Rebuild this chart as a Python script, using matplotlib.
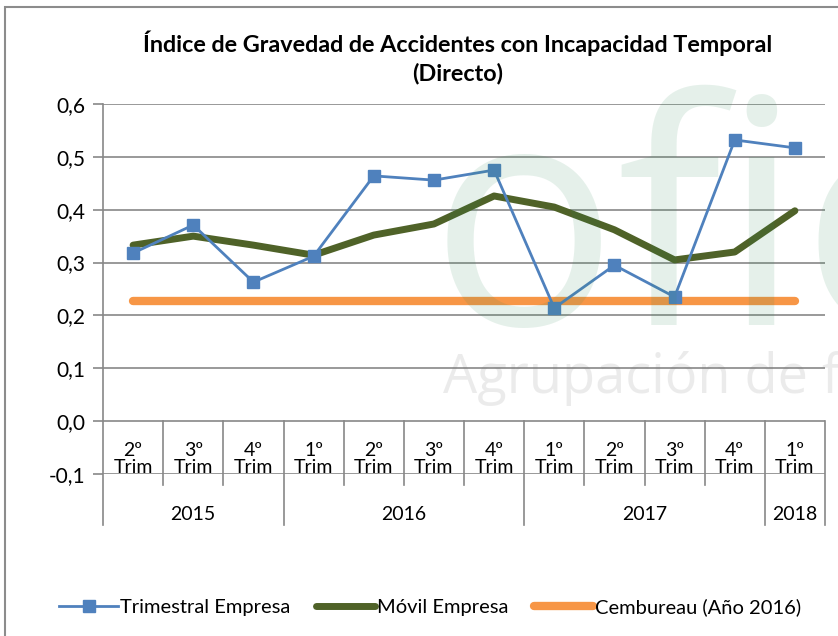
import matplotlib
matplotlib.use("Agg")
import matplotlib.pyplot as plt
from matplotlib.patches import Rectangle

quarters = ["2º", "3º", "4º", "1º", "2º", "3º", "4º", "1º", "2º", "3º", "4º", "1º"]
years = ["2015", "2016", "2017", "2018"]
year_counts = [3, 4, 4, 1]
trimestral = [0.318, 0.371, 0.263, 0.312, 0.464, 0.456, 0.475, 0.214, 0.295, 0.235, 0.532, 0.517]
movil = [0.333, 0.350, 0.333, 0.314, 0.352, 0.373, 0.426, 0.405, 0.362, 0.305, 0.320, 0.398]
cembureau = [0.228] * 12
yticks = [-0.1, 0.0, 0.1, 0.2, 0.3, 0.4, 0.5, 0.6]

FONT = ["Lato", "DejaVu Sans"]
plt.rcParams["font.family"] = FONT

W, H = 838, 636
fig = plt.figure(figsize=(W / 100, H / 100), dpi=100)

def fx(px):
    return px / W

def fy(py):
    return 1 - py / H

# outer border
fig.add_artist(Rectangle((fx(5), fy(650)), fx(850) - fx(5), fy(7) - fy(650),
                         transform=fig.transFigure, fill=False, edgecolor="#8c8c8c", lw=1.5))

ax = fig.add_axes([fx(103), fy(474), fx(825) - fx(103), fy(104) - fy(474)])
ax.set_xlim(0, 12)
ax.set_ylim(-0.1, 0.6)
for s in ["top", "right", "bottom", "left"]:
    ax.spines[s].set_visible(False)

grid_c = "#878787"
for v in yticks:
    ax.axhline(v, color=grid_c, lw=1.2, zorder=1)
ax.set_yticks(yticks)
ax.set_yticklabels([f"{v:.1f}".replace(".", ",") for v in yticks], fontsize=15)
ax.tick_params(axis="y", length=7, color=grid_c, width=1.2, pad=6)
ax.set_xticks([])

xs = [i + 0.5 for i in range(12)]
ax.plot(xs, cembureau, color="#F79646", lw=6, solid_capstyle="round", zorder=3,
        label="Cembureau (Año 2016)")
ax.plot(xs, movil, color="#4F6228", lw=5, solid_capstyle="round", solid_joinstyle="round",
        zorder=4, label="Móvil Empresa")
ax.plot(xs, trimestral, color="#4F81BD", lw=2, marker="s", markersize=9, zorder=5,
        label="Trimestral Empresa")

# category axis structure
y_q = -0.121
y_y = -0.197
ax.plot([0, 0], [0.6, y_y], color=grid_c, lw=1.2, clip_on=False, zorder=2)
bounds = [0]
for c in year_counts:
    bounds.append(bounds[-1] + c)
for i in range(1, 12):
    if i not in bounds:
        ax.plot([i, i], [0, y_q], color=grid_c, lw=1.2, clip_on=False, zorder=2)
for b in bounds[1:]:
    ax.plot([b, b], [0, y_y], color=grid_c, lw=1.2, clip_on=False, zorder=2)

for i, q in enumerate(quarters):
    ax.text(i + 0.5, -0.072, q + "\nTrim", ha="center", va="center", fontsize=14,
            linespacing=1.0, clip_on=False, zorder=2)
for j, yname in enumerate(years):
    c = (bounds[j] + bounds[j + 1]) / 2
    ax.text(c, -0.176, yname, ha="center", va="center", fontsize=14, clip_on=False)

fig.text(fx(458), fy(43), "Índice de Gravedad de Accidentes con Incapacidad Temporal",
         ha="center", va="center", fontsize=16.8, fontweight="bold")
fig.text(fx(458), fy(73), "(Directo)", ha="center", va="center", fontsize=16.8, fontweight="bold")

# watermark
fig.text(fx(430), fy(325), "ofic", ha="left", va="baseline", fontsize=225,
         family=["Open Sans", "DejaVu Sans"],
         color="#2e8b57", alpha=0.12, zorder=10)
fig.text(fx(443), fy(393), "Agrupación de f", ha="left", va="baseline", fontsize=39,
         family=["Open Sans", "DejaVu Sans"], color="#777777", alpha=0.14, zorder=10)

handles, labels = ax.get_legend_handles_labels()
order = [2, 1, 0]
fig.legend([handles[i] for i in order], [labels[i] for i in order], loc="center",
           bbox_to_anchor=(fx(430), fy(607)), ncol=3, frameon=False, fontsize=14.5,
           handlelength=2.9, columnspacing=1.3, handletextpad=0.1)

fig.savefig("out.png", dpi=100)
